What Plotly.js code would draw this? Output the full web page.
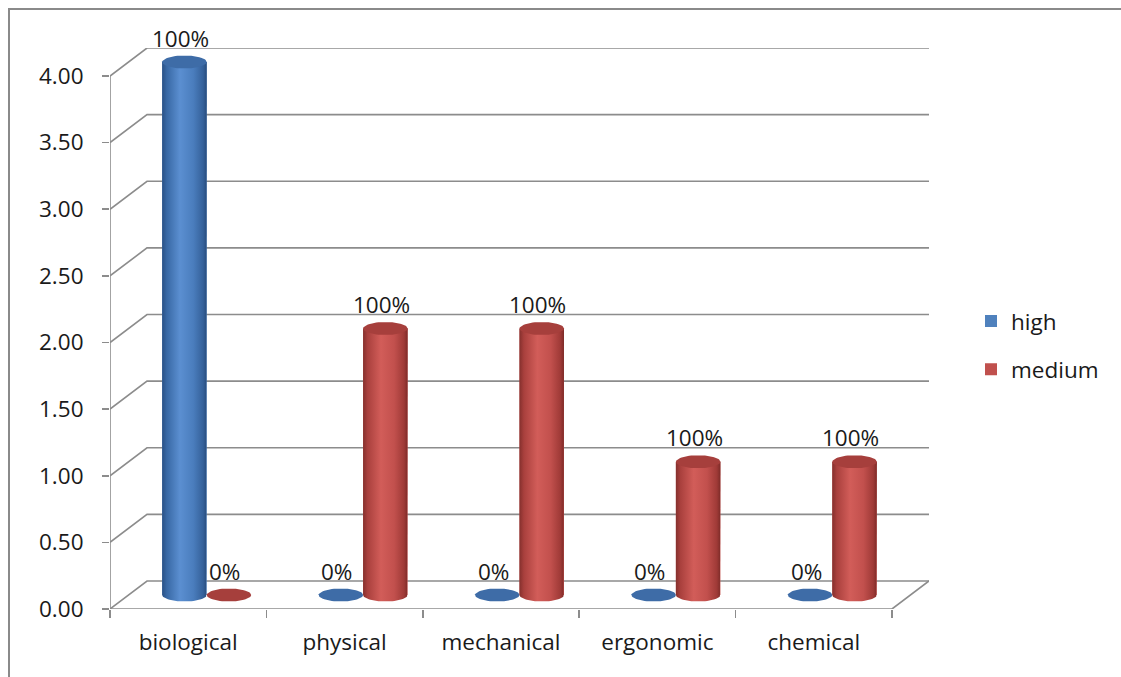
<!DOCTYPE html>
<html>
<head>
<meta charset="utf-8">
<script src="https://cdn.plot.ly/plotly-3.0.1.min.js"></script>
<style>
  html, body { margin: 0; padding: 0; background: #ffffff; }
  #wrap { position: relative; width: 1121px; height: 677px; overflow: hidden; }
  #frame { position: absolute; left: 8px; top: 8px; width: 1200px; height: 800px;
           border-left: 2px solid #8a8a8a; border-top: 2px solid #8a8a8a; pointer-events: none; }
  #chart { position: absolute; left: 0; top: 0; width: 1121px; height: 677px; }
</style>
</head>
<body>
<div id="wrap">
  <div id="chart"></div>
  <div id="frame"></div>
</div>
<script>
// ---- data ----
const categories = ['biological', 'physical', 'mechanical', 'ergonomic', 'chemical'];
const seriesNames = ['high', 'medium'];
const highValues = [4, 0, 0, 0, 0];
const mediumValues = [0, 2, 2, 1, 1];
const yTickValues = [0, 0.5, 1, 1.5, 2, 2.5, 3, 3.5, 4];

// ---- styling / pseudo-3D geometry ----
const FONT = '"Open Sans", Lato, sans-serif';
const FONT_SIZE = 22.5;
const TEXT_COLOR = '#1a1a1a';
const GRID_COLOR = '#8c8c8c';
const CAT_PX = 156.4;          // pixels per category
const VAL_PX = 133.3;          // pixels per value unit
const DEPTH_X = 37 / CAT_PX;   // wall depth, in x units
const DEPTH_Y = 28 / VAL_PX;   // wall depth, in y units
const CYL_W = 44.5 / CAT_PX;   // cylinder diameter, in x units
const ELL_RY = 6.5 / VAL_PX;   // vertical radius of the cylinder ellipses
const Y_MAX = 4;
const N_CAT = categories.length;

const seriesValues = [highValues, mediumValues];
const seriesStyle = [
  { mid: '#4f81bd', top: '#3e6ca7',
    scale: [[0, '#2a5185'], [0.1, '#3868a4'], [0.4, '#5b8fd1'], [0.7, '#4a7dbd'], [0.92, '#35619a'], [1, '#284c7c']] },
  { mid: '#c0504d', top: '#a63f3c',
    scale: [[0, '#85302d'], [0.1, '#a9403d'], [0.4, '#d25d59'], [0.7, '#c2504d'], [0.92, '#9f3a37'], [1, '#7d2b28']] }
];

const LEFT = 110, TOP = 48;
const plotW = (N_CAT + DEPTH_X) * CAT_PX;
const plotH = (Y_MAX + DEPTH_Y) * VAL_PX;

// centre of a cylinder on the mid-depth plane
function cylX(catIdx, sIdx) {
  return catIdx + 0.5 + DEPTH_X / 2 + (sIdx - 0.5) * CYL_W;
}
const baseY = DEPTH_Y / 2;

function ellipse(cx, cy) {
  const xs = [], ys = [];
  for (let k = 0; k <= 60; k++) {
    const t = 2 * Math.PI * k / 60;
    xs.push(cx + CYL_W / 2 * Math.cos(t));
    ys.push(cy + ELL_RY * Math.sin(t));
  }
  return { xs, ys };
}

function body(cx, top) {
  const r = CYL_W / 2;
  const xs = [cx - r, cx - r, cx + r, cx + r];
  const ys = [baseY, top, top, baseY];
  for (let k = 0; k <= 30; k++) {
    const t = Math.PI * k / 30;           // lower half, right to left
    xs.push(cx + r * Math.cos(t));
    ys.push(baseY - ELL_RY * Math.sin(t));
  }
  return { xs, ys };
}

const traces = [];

// bar traces: the data columns (flat colour, also used for the legend keys)
seriesValues.forEach((vals, s) => {
  traces.push({
    type: 'bar',
    name: seriesNames[s],
    legendgroup: seriesNames[s],
    x: categories.map((c, i) => cylX(i, s)),
    y: vals,
    base: baseY,
    width: CYL_W,
    marker: { color: seriesStyle[s].mid, line: { width: 0 } },
    hoverinfo: 'skip'
  });
});

// shaded cylinder bodies and tops drawn over the columns
categories.forEach((c, i) => {
  seriesValues.forEach((vals, s) => {
    const v = vals[i];
    const cx = cylX(i, s);
    const topY = baseY + v;
    if (v > 0) {
      const b = body(cx, topY);
      traces.push({
        type: 'scatter', mode: 'lines', x: b.xs, y: b.ys,
        fill: 'toself',
        fillgradient: { type: 'horizontal', colorscale: seriesStyle[s].scale },
        line: { width: 0, color: seriesStyle[s].mid },
        showlegend: false, legendgroup: seriesNames[s], hoverinfo: 'skip'
      });
    }
    const e = ellipse(cx, topY);
    traces.push({
      type: 'scatter', mode: 'lines', x: e.xs, y: e.ys,
      fill: 'toself', fillcolor: seriesStyle[s].top,
      line: { width: 0, color: seriesStyle[s].top },
      showlegend: false, legendgroup: seriesNames[s], hoverinfo: 'skip'
    });
  });
});

// walls, floor and axis lines
const shapes = [];
const gridLine = { color: GRID_COLOR, width: 1.6 };
yTickValues.forEach(v => {
  shapes.push({
    type: 'path', layer: 'below', xref: 'x', yref: 'y',
    path: `M0,${v} L${DEPTH_X},${v + DEPTH_Y} L${N_CAT + DEPTH_X},${v + DEPTH_Y}`,
    line: gridLine
  });
});
shapes.push({
  type: 'path', layer: 'below', xref: 'x', yref: 'y',
  path: `M0,0 L${N_CAT},0 L${N_CAT + DEPTH_X},${DEPTH_Y}`,
  line: gridLine
});
shapes.push({
  type: 'line', layer: 'below', xref: 'x', yref: 'y',
  x0: 0, x1: 0, y0: 0, y1: Y_MAX, line: gridLine
});

// share labels above every cylinder
const annotations = [];
categories.forEach((c, i) => {
  const total = seriesValues.reduce((acc, vals) => acc + vals[i], 0);
  seriesValues.forEach((vals, s) => {
    const pct = total > 0 ? Math.round(vals[i] / total * 100) : 0;
    annotations.push({
      x: cylX(i, s), y: baseY + vals[i], xref: 'x', yref: 'y',
      text: pct + '%', showarrow: false,
      xanchor: 'center', yanchor: 'middle', xshift: -4, yshift: 24,
      font: { family: FONT, size: FONT_SIZE, color: TEXT_COLOR }
    });
  });
});

const layout = {
  width: 1121, height: 677,
  margin: { l: LEFT, t: TOP, r: 1121 - LEFT - plotW, b: 677 - TOP - plotH, pad: 0 },
  paper_bgcolor: 'rgba(0,0,0,0)', plot_bgcolor: 'rgba(0,0,0,0)',
  barmode: 'overlay',
  showlegend: true,
  font: { family: FONT, size: FONT_SIZE, color: TEXT_COLOR },
  xaxis: {
    type: 'linear', range: [0, N_CAT + DEPTH_X], fixedrange: true,
    tickmode: 'array', tickvals: categories.map((c, i) => i + 0.5), ticktext: categories,
    ticks: '', showgrid: false, zeroline: false, showline: false,
    ticklabelstandoff: 17, automargin: false,
    tickfont: { family: FONT, size: FONT_SIZE, color: TEXT_COLOR }
  },
  xaxis2: {
    type: 'linear', overlaying: 'x', side: 'bottom', range: [0, N_CAT + DEPTH_X], fixedrange: true,
    tickmode: 'array', tickvals: categories.map((c, i) => i).concat([N_CAT]),
    showticklabels: false, ticks: 'outside', ticklen: 8, tickwidth: 1.6, tickcolor: GRID_COLOR,
    showgrid: false, zeroline: false, showline: false, automargin: false
  },
  yaxis: {
    type: 'linear', range: [0, Y_MAX + DEPTH_Y], fixedrange: true,
    tickmode: 'array', tickvals: yTickValues, tickformat: '.2f',
    ticks: 'outside', ticklen: 7, tickwidth: 1.6, tickcolor: GRID_COLOR,
    ticklabelstandoff: 14,
    showgrid: false, zeroline: false, showline: false, automargin: false,
    tickfont: { family: FONT, size: FONT_SIZE, color: TEXT_COLOR }
  },
  legend: {
    x: (971 - LEFT) / plotW, xanchor: 'left',
    y: 0.47, yanchor: 'middle',
    bgcolor: 'rgba(0,0,0,0)', borderwidth: 0,
    font: { family: FONT, size: FONT_SIZE, color: TEXT_COLOR },
    tracegroupgap: 16, itemwidth: 30
  },
  shapes: shapes,
  annotations: annotations
};

// empty trace bound to x2 so the category boundary ticks are drawn
traces.push({ type: 'scatter', x: [], y: [], xaxis: 'x2', yaxis: 'y', showlegend: false, hoverinfo: 'skip' });

Plotly.newPlot('chart', traces, layout, { staticPlot: true, displayModeBar: false });
</script>
</body>
</html>
